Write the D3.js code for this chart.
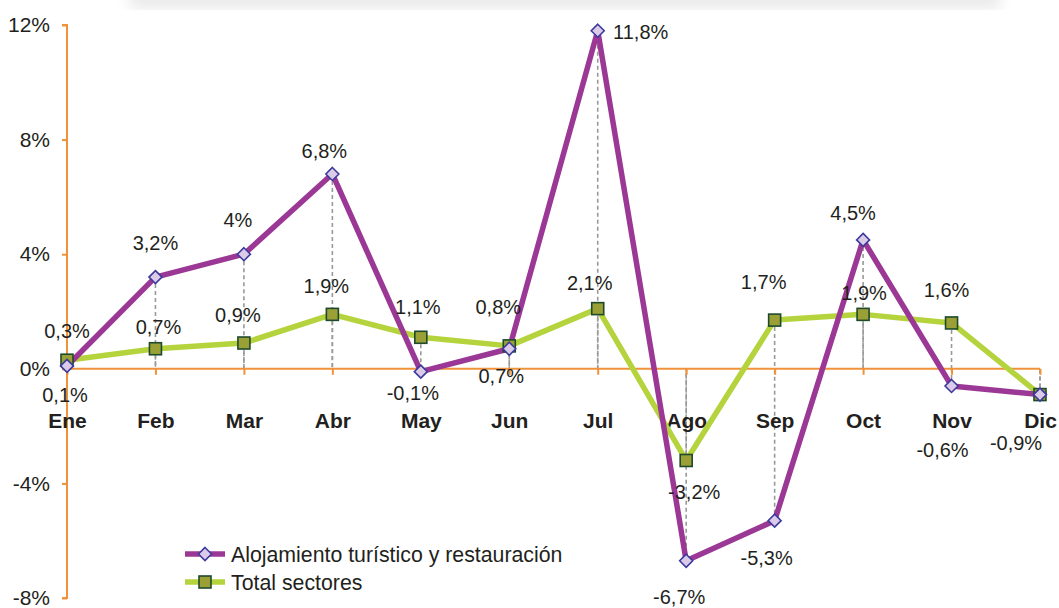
<!DOCTYPE html>
<html><head><meta charset="utf-8">
<script src="https://cdn.jsdelivr.net/npm/d3@7"></script>
<style>body{margin:0;background:#fff}svg{display:block}text{font-family:"Liberation Sans",Arial,Helvetica,sans-serif}</style>
</head><body><svg id="c" width="1059" height="608"></svg>
<script>
const categories = ["Ene","Feb","Mar","Abr","May","Jun","Jul","Ago","Sep","Oct","Nov","Dic"];
const alojamiento = [0.1,3.2,4,6.8,-0.1,0.7,11.8,-6.7,-5.3,4.5,-0.6,-0.9];
const totalSectores = [0.3,0.7,0.9,1.9,1.1,0.8,2.1,-3.2,1.7,1.9,1.6,-0.9];
const yTicks = [-8,-4,0,4,8,12];
const seriesNames = ["Alojamiento turístico y restauración","Total sectores"];

// label placement offsets (layout only)
const alojLabelOffset = [[-2,29],[0,-34],[-6,-34],[-8,-23],[-8,21],[-8,27],[43,1],[-7,36],[-8,37],[-10,-27],[-9,64],null];
const totalLabelOffset = [[0,-29],[3,-22],[-6,-28],[-6,-29],[-3,-30],[-11,-39],[-8,-26],[8,31],[-11,-38],[1,-22],[-5,-33],[-24,48]];

const svg = d3.select("#c");
const x = d3.scalePoint().domain(categories).range([67,1040]);
const y = d3.scaleLinear().domain([-8,12]).range([598,25]);
const fmt = v => String(v).replace(".",",")+"%";
const textCol = "#231f20";

// top shadow
const defs = svg.append("defs");
defs.append("filter").attr("id","bl").attr("x","-20%").attr("width","140%").append("feGaussianBlur").attr("stdDeviation",7);
svg.append("rect").attr("x",130).attr("y",-10).attr("width",870).attr("height",18).attr("fill","#e8e8e8").attr("filter","url(#bl)");

// drop lines
[alojamiento,totalSectores].forEach(s=>{
  svg.append("g").selectAll("line").data(s).join("line")
    .attr("x1",(d,i)=>x(categories[i])).attr("x2",(d,i)=>x(categories[i]))
    .attr("y1",d=>y(d)).attr("y2",y(0))
    .attr("stroke","#999").attr("stroke-width",1.6).attr("stroke-dasharray","4,3");
});

// y axis
const yAxis = svg.append("g").attr("transform","translate(67,0)")
  .call(d3.axisLeft(y).tickValues(yTicks).tickSize(5).tickPadding(12).tickFormat(d=>d+"%"));
yAxis.select(".domain").attr("stroke","#F0923A").attr("stroke-width",2).attr("d","M-5,25H0V598H-5");
yAxis.selectAll(".tick line").attr("stroke","#F0923A").attr("stroke-width",2);
yAxis.selectAll(".tick text").attr("font-size",21).attr("fill",textCol).attr("font-family","Liberation Sans, Arial, sans-serif");

// x axis at zero
const xAxis = svg.append("g").attr("transform",`translate(0,${y(0)})`)
  .call(d3.axisBottom(x).tickSize(6).tickPadding(38));
xAxis.select(".domain").attr("stroke","#F0923A").attr("stroke-width",2).attr("d","M67,0H1040");
xAxis.selectAll(".tick line").attr("stroke","#F0923A").attr("stroke-width",2);
xAxis.selectAll(".tick text").attr("font-size",21).attr("font-weight","bold").attr("fill",textCol).attr("font-family","Liberation Sans, Arial, sans-serif");

const line = d3.line().x((d,i)=>x(categories[i])).y(d=>y(d));
const purple = "#9B3895", green = "#B5D33D";

svg.append("path").datum(totalSectores).attr("d",line).attr("fill","none").attr("stroke",green).attr("stroke-width",5.5).attr("stroke-linejoin","round");
svg.append("path").datum(alojamiento).attr("d",line).attr("fill","none").attr("stroke",purple).attr("stroke-width",5.5).attr("stroke-linejoin","round");

function diamondPath(cx,cy,r){return `M${cx},${cy-r}L${cx+r},${cy}L${cx},${cy+r}L${cx-r},${cy}Z`;}

// markers
svg.append("g").selectAll("rect").data(totalSectores).join("rect")
  .attr("x",(d,i)=>x(categories[i])-6).attr("y",d=>y(d)-6).attr("width",12).attr("height",12)
  .attr("fill","#9AA035").attr("stroke","#1E4A2C").attr("stroke-width",1.6);
svg.append("g").selectAll("path").data(alojamiento).join("path")
  .attr("d",(d,i)=>diamondPath(x(categories[i]),y(d),6.5))
  .attr("fill","#DCCBE8").attr("stroke","#3C3A9C").attr("stroke-width",1.6);

// data labels
const lab = svg.append("g").attr("font-size",20).attr("fill",textCol).attr("text-anchor","middle");
alojamiento.forEach((v,i)=>{const o=alojLabelOffset[i]; if(!o) return;
  lab.append("text").attr("x",x(categories[i])+o[0]).attr("y",y(v)+o[1]).attr("dy","0.36em").text(fmt(v));});
totalSectores.forEach((v,i)=>{const o=totalLabelOffset[i];
  lab.append("text").attr("x",x(categories[i])+o[0]).attr("y",y(v)+o[1]).attr("dy","0.36em").text(fmt(v));});

// legend
const leg = svg.append("g");
const legColors = [purple, green];
seriesNames.forEach((n,i)=>{
  const ly = 554 + i*28;
  leg.append("line").attr("x1",185).attr("x2",225).attr("y1",ly).attr("y2",ly).attr("stroke",legColors[i]).attr("stroke-width",5.5);
  if(i===0) leg.append("path").attr("d",diamondPath(205,ly,6.5)).attr("fill","#DCCBE8").attr("stroke","#3C3A9C").attr("stroke-width",1.6);
  else leg.append("rect").attr("x",199).attr("y",ly-6).attr("width",12).attr("height",12).attr("fill","#9AA035").attr("stroke","#1E4A2C").attr("stroke-width",1.6);
  leg.append("text").attr("x",231).attr("y",ly).attr("dy","0.36em").attr("font-size",21.3).attr("fill",textCol).text(n);
});
</script></body></html>
